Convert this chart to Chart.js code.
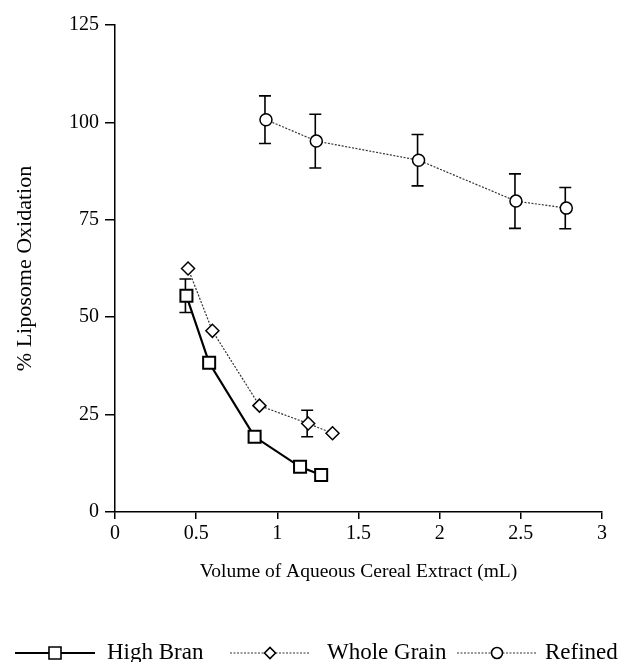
<!DOCTYPE html>
<html>
<head>
<meta charset="utf-8">
<script src="https://cdn.jsdelivr.net/npm/chart.js@4"></script>
<style>
  html, body { margin: 0; padding: 0; background: #fff; }
  #wrap { width: 621px; height: 662px; position: relative; }
</style>
</head>
<body>
<div id="wrap"><canvas id="chart"></canvas></div>
<script>
// === DATA ===
const seriesNames = ["High Bran", "Whole Grain", "Refined"];

const highBranX = [0.44, 0.58, 0.86, 1.14, 1.27];
const highBranY = [55.5, 38.3, 19.3, 11.6, 9.5];
const highBranErr = [4.3, 0, 0, 0, 0];

const wholeGrainX = [0.45, 0.60, 0.89, 1.19, 1.34];
const wholeGrainY = [62.5, 46.5, 27.3, 22.7, 20.2];
const wholeGrainErr = [0, 0, 0, 3.4, 0];

const refinedX = [0.93, 1.24, 1.87, 2.47, 2.78];
const refinedY = [100.7, 95.2, 90.3, 79.8, 78.0];
const refinedErr = [6.1, 6.9, 6.6, 7.0, 5.3];

const xTicks = [0, 0.5, 1, 1.5, 2, 2.5, 3];
const yTicks = [0, 25, 50, 75, 100, 125];
// =============

const SERIF = "'Liberation Serif', 'Times New Roman', serif";
Chart.defaults.font.family = SERIF;
Chart.defaults.color = "#000";

function pts(xs, ys) { return xs.map((x, i) => ({ x, y: ys[i] })); }

const errs = [highBranErr, wholeGrainErr, refinedErr];

// error bars go under the markers
const errorBars = {
  id: "errorBars",
  beforeDatasetsDraw(chart) {
    const ctx = chart.ctx;
    const ys = chart.scales.y;
    ctx.save();
    ctx.strokeStyle = "#000";
    ctx.lineWidth = 1.6;
    chart.data.datasets.forEach((ds, i) => {
      const meta = chart.getDatasetMeta(i);
      meta.data.forEach((pt, j) => {
        const e = errs[i][j];
        if (!e) return;
        const v = ds.data[j].y;
        const top = ys.getPixelForValue(v + e);
        const bot = ys.getPixelForValue(v - e);
        const x = pt.x - 1;
        ctx.beginPath();
        ctx.moveTo(x, top); ctx.lineTo(x, bot);
        ctx.moveTo(x - 6, top); ctx.lineTo(x + 6, top);
        ctx.moveTo(x - 6, bot); ctx.lineTo(x + 6, bot);
        ctx.stroke();
      });
    });
    ctx.restore();
  }
};

// legend: line with marker in the middle, then label
const lineLegend = {
  id: "lineLegend",
  afterDraw(chart) {
    const ctx = chart.ctx;
    const y = 653;
    const items = [
      { x0: 15, x1: 95, text: 107, style: "rect", solid: true },
      { x0: 230, x1: 310, text: 327, style: "rectRot", solid: false },
      { x0: 457, x1: 537, text: 545, style: "circle", solid: false }
    ];
    ctx.save();
    items.forEach((it, i) => {
      ctx.beginPath();
      ctx.strokeStyle = it.solid ? "#000" : "#333";
      ctx.lineWidth = it.solid ? 2 : 1.2;
      ctx.setLineDash(it.solid ? [] : [2, 1.5]);
      ctx.moveTo(it.x0, y); ctx.lineTo(it.x1, y);
      ctx.stroke();
      ctx.setLineDash([]);
      const cx = (it.x0 + it.x1) / 2;
      ctx.fillStyle = "#fff";
      ctx.strokeStyle = "#000";
      ctx.lineWidth = 1.6;
      ctx.beginPath();
      if (it.style === "rect") ctx.rect(cx - 6, y - 6, 12, 12);
      else if (it.style === "rectRot") {
        ctx.moveTo(cx - 5.5, y); ctx.lineTo(cx, y - 5.5);
        ctx.lineTo(cx + 5.5, y); ctx.lineTo(cx, y + 5.5); ctx.closePath();
      } else ctx.arc(cx, y, 5.5, 0, Math.PI * 2);
      ctx.fill(); ctx.stroke();
      ctx.fillStyle = "#000";
      ctx.font = "23px " + SERIF;
      ctx.textBaseline = "middle";
      ctx.textAlign = "left";
      ctx.fillText(seriesNames[i], it.text, y);
    });
    ctx.restore();
  }
};

new Chart(document.getElementById("chart"), {
  type: "line",
  data: {
    datasets: [
      {
        label: seriesNames[0],
        data: pts(highBranX, highBranY),
        borderColor: "#000", borderWidth: 2.2,
        pointStyle: "rect", pointRadius: 8.5,
        pointBackgroundColor: "#fff", pointBorderColor: "#000", pointBorderWidth: 2
      },
      {
        label: seriesNames[1],
        data: pts(wholeGrainX, wholeGrainY),
        borderColor: "#333", borderWidth: 1.2, borderDash: [2, 1.5],
        pointStyle: "rectRot", pointRadius: 6.5,
        pointBackgroundColor: "#fff", pointBorderColor: "#000", pointBorderWidth: 1.5
      },
      {
        label: seriesNames[2],
        data: pts(refinedX, refinedY),
        borderColor: "#333", borderWidth: 1.2, borderDash: [2, 1.5],
        pointStyle: "circle", pointRadius: 6,
        pointBackgroundColor: "#fff", pointBorderColor: "#000", pointBorderWidth: 1.5
      }
    ]
  },
  options: {
    responsive: true,
    maintainAspectRatio: false,
    animation: false,
    layout: { padding: { left: 0, right: 19, top: 25, bottom: 78 } },
    plugins: { legend: { display: false }, tooltip: { enabled: false } },
    scales: {
      x: {
        type: "linear", min: 0, max: 3,
        afterFit(s) { s.height = 72; },
        afterBuildTicks(s) { s.ticks = xTicks.map(v => ({ value: v })); },
        grid: { drawOnChartArea: false, drawTicks: true, tickLength: 7, color: "#000", lineWidth: 1.5 },
        border: { display: true, color: "#000", width: 1.5 },
        ticks: { padding: 3, font: { size: 20 }, color: "#000", callback: v => String(v) },
        title: { display: true, text: "Volume of Aqueous Cereal Extract (mL)", font: { size: 19.5 }, color: "#000", padding: { top: 0, bottom: 0 } }
      },
      y: {
        type: "linear", min: 0, max: 125,
        afterFit(s) { s.width = 115; },
        afterBuildTicks(s) { s.ticks = yTicks.map(v => ({ value: v })); },
        grid: { drawOnChartArea: false, drawTicks: true, tickLength: 10, color: "#000", lineWidth: 1.5 },
        border: { display: true, color: "#000", width: 1.5 },
        ticks: { padding: 6, font: { size: 20 }, color: "#000", callback: v => String(v) },
        title: { display: true, text: "% Liposome Oxidation", font: { size: 22 }, color: "#000", padding: { top: 12, bottom: 0 } }
      }
    }
  },
  plugins: [errorBars, lineLegend]
});
</script>
</body>
</html>
